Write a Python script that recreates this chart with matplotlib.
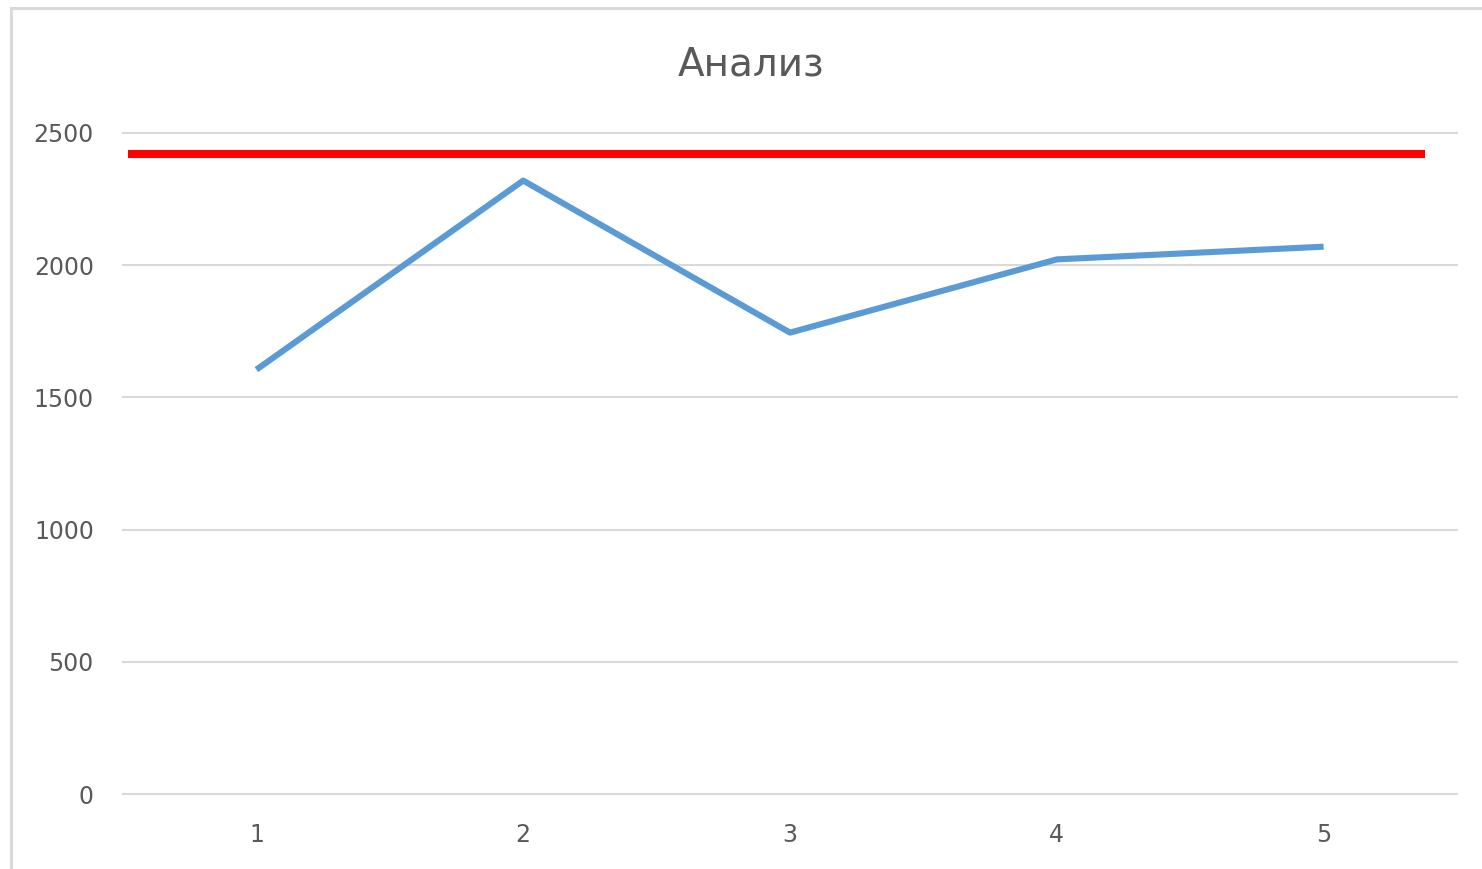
import matplotlib.pyplot as plt
from matplotlib.patches import Rectangle

# data
periods = [1, 2, 3, 4, 5]
values = [1605, 2320, 1745, 2022, 2070]
target = 2420
y_ticks = [0, 500, 1000, 1500, 2000, 2500]
title = 'Анализ'


def main():
    plt.rcParams['font.family'] = ['DejaVu Sans']
    text_color = '#595959'
    grid_color = '#D9D9D9'

    fig = plt.figure(figsize=(14.82, 8.69), dpi=100)
    ax = fig.add_axes([123 / 1482, 75 / 869, 1334 / 1482, 661 / 869])

    # chart border (left and top visible)
    fig.patches.append(Rectangle((11 / 1482, -0.1), 1.2, 1 - 8 / 869 + 0.1,
                                 transform=fig.transFigure, fill=False,
                                 edgecolor=grid_color, linewidth=2.2))

    # gridlines
    for y in y_ticks:
        ax.axhline(y, color=grid_color, linewidth=1.5, zorder=1, clip_on=False)

    # target line and series
    ax.hlines(target, 0.52, 5.38, color='#FF0000', linewidth=5.8, zorder=3)
    ax.plot(periods, values, color='#5B9BD5', linewidth=4.4,
            solid_capstyle='butt', zorder=4)

    ax.set_xlim(0.5, 5.5)
    ax.set_ylim(0, 2500)
    ax.set_xticks(periods)
    ax.set_yticks(y_ticks)
    ax.tick_params(axis='both', length=0, labelsize=17, colors=text_color)
    ax.tick_params(axis='y', pad=21)
    ax.tick_params(axis='x', pad=21)
    for s in ax.spines.values():
        s.set_visible(False)

    fig.text(751 / 1482, 1 - 64 / 869, title, ha='center', va='center',
             fontsize=28, color=text_color)

    plt.savefig('out.png', dpi=100)


if __name__ == '__main__':
    main()
